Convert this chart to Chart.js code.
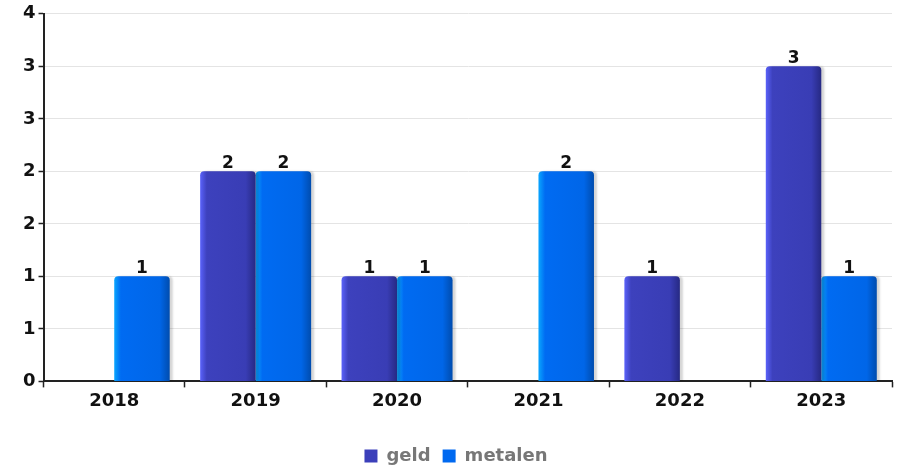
<!DOCTYPE html>
<html>
<head>
<meta charset="utf-8">
<script src="https://cdn.jsdelivr.net/npm/chart.js@4.4.1/dist/chart.umd.min.js"></script>
<style>
  html, body { margin: 0; padding: 0; background: #fff; }
  #wrap { width: 901px; height: 469px; }
</style>
</head>
<body>
<div id="wrap"><canvas id="stats"></canvas></div>
<script>
'use strict';

var years = ['2018', '2019', '2020', '2021', '2022', '2023'];
var geld = [0, 2, 1, 0, 1, 3];
var metalen = [1, 2, 1, 2, 0, 1];
var yTicks = [0, 0.5, 1, 1.5, 2, 2.5, 3, 3.5];

var CAT_PCT = 0.785;
var FONT = '"DejaVu Sans", Verdana, sans-serif';

// left-to-right shading: highlight, body, body, dark edge
var shades = {
  geld: ['#5a62fa', '#3d41bd', '#393db5', '#262983'],
  metalen: ['#0aa6ff', '#006bf2', '#0066e8', '#004cae']
};
var solid = { geld: '#3b3fba', metalen: '#0069f0' };

function barFill(stops) {
  return function(c) {
    var chart = c.chart;
    var xs = chart.scales.x;
    if (!xs || !chart.chartArea || c.dataIndex === undefined) return stops[1];
    var cw = xs.width / years.length;
    var bw = cw * CAT_PCT / 2;
    var left = xs.getPixelForValue(c.dataIndex) - bw + c.datasetIndex * bw;
    var g = chart.ctx.createLinearGradient(left, 0, left + bw, 0);
    g.addColorStop(0, stops[0]);
    g.addColorStop(0.12, stops[1]);
    g.addColorStop(0.82, stops[2]);
    g.addColorStop(1, stops[3]);
    return g;
  };
}

// soft grey shadow on the right side of each bar
var barShadow = {
  id: 'barShadow',
  beforeDatasetsDraw: function(chart) {
    var ctx = chart.ctx;
    ctx.save();
    ctx.shadowColor = 'rgba(0, 0, 0, 0.16)';
    ctx.shadowOffsetX = 3;
    ctx.shadowOffsetY = 0;
    ctx.shadowBlur = 2;
  },
  afterDatasetsDraw: function(chart) {
    chart.ctx.restore();
  }
};

// value on top of every non-empty bar
var valueLabels = {
  id: 'valueLabels',
  afterDatasetsDraw: function(chart) {
    var ctx = chart.ctx;
    ctx.save();
    ctx.font = 'bold 17px ' + FONT;
    ctx.fillStyle = '#111';
    ctx.textAlign = 'center';
    ctx.textBaseline = 'alphabetic';
    chart.data.datasets.forEach(function(ds, i) {
      chart.getDatasetMeta(i).data.forEach(function(bar, j) {
        if (!ds.data[j]) return;
        ctx.fillText(String(ds.data[j]), bar.x, bar.y - 3);
      });
    });
    ctx.restore();
  }
};

var ctx = document.getElementById('stats');

var barChart = new Chart(ctx, {
  type: 'bar',
  data: {
    labels: years,
    datasets: [{
      label: 'geld',
      data: geld,
      backgroundColor: barFill(shades.geld),
      borderRadius: { topLeft: 4, topRight: 4 },
      borderSkipped: 'bottom'
    }, {
      label: 'metalen',
      data: metalen,
      backgroundColor: barFill(shades.metalen),
      borderRadius: { topLeft: 4, topRight: 4 },
      borderSkipped: 'bottom'
    }]
  },
  options: {
    responsive: true,
    maintainAspectRatio: false,
    animation: false,
    layout: { padding: { left: 20, right: 9, top: 10, bottom: -6 } },
    datasets: {
      bar: { categoryPercentage: CAT_PCT, barPercentage: 1 }
    },
    scales: {
      x: {
        grid: { drawOnChartArea: false, tickColor: '#222', tickLength: 6, tickWidth: 1.5 },
        border: { color: '#222', width: 2 },
        ticks: { color: '#111', font: { family: FONT, size: 18, weight: 'bold' }, padding: 3 },
        afterFit: function(axis) { axis.height += 20; }
      },
      y: {
        min: 0,
        max: 3.5,
        afterBuildTicks: function(axis) {
          axis.ticks = yTicks.map(function(v) { return { value: v }; });
        },
        grid: { color: '#e4e4e4', lineWidth: 1, tickColor: '#222', tickLength: 5, tickWidth: 1.5 },
        border: { color: '#222', width: 2 },
        ticks: {
          color: '#111',
          font: { family: FONT, size: 18, weight: 'bold' },
          padding: 3,
          callback: function(v) { return Math.round(v); }
        }
      }
    },
    plugins: {
      tooltip: { enabled: false },
      legend: {
        position: 'bottom',
        labels: {
          boxWidth: 13,
          boxHeight: 13,
          padding: 12,
          color: '#777',
          font: { family: FONT, size: 18, weight: 'bold' },
          generateLabels: function(chart) {
            return chart.data.datasets.map(function(ds, i) {
              return {
                text: ds.label,
                fillStyle: solid[ds.label],
                strokeStyle: solid[ds.label],
                lineWidth: 0,
                fontColor: '#777',
                datasetIndex: i,
                hidden: false
              };
            });
          }
        }
      }
    }
  },
  plugins: [barShadow, valueLabels]
});
</script>
</body>
</html>
